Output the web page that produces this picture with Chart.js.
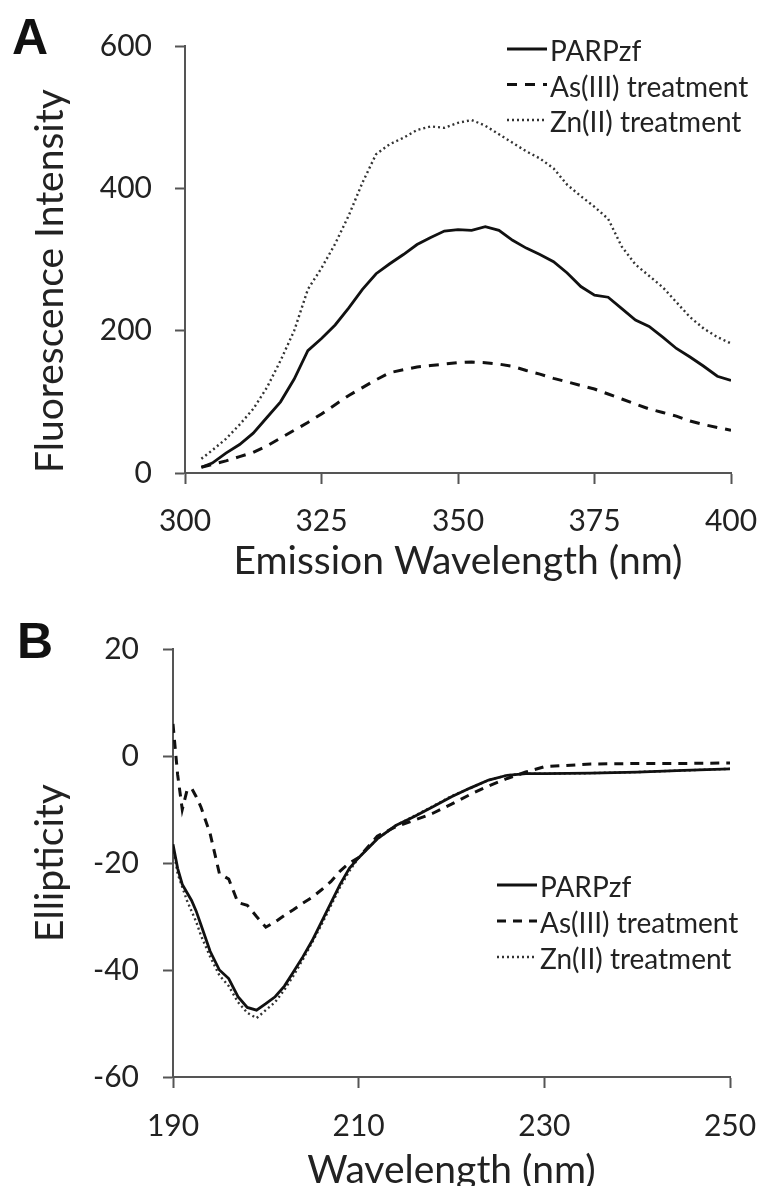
<!DOCTYPE html>
<html>
<head>
<meta charset="utf-8">
<script src="https://cdn.jsdelivr.net/npm/chart.js@4.4.1/dist/chart.umd.min.js"></script>
<style>
  html, body { margin: 0; padding: 0; background: #fff; overflow: hidden; }
  #wrap { position: relative; width: 762px; height: 1186px; overflow: hidden; }
  canvas { position: absolute; left: 0; }
  #chartA { top: 0; }
  #chartB { top: 600px; }
</style>
</head>
<body>
<div id="wrap">
  <canvas id="chartA" width="762" height="600"></canvas>
  <canvas id="chartB" width="762" height="600"></canvas>
</div>
<script>
/* DATA - panel A, fluorescence emission */
const emWavelength = [303, 305, 307.5, 310, 312.5, 315, 317.5, 320, 322.5, 325, 327.5, 330, 332.5, 335, 337.5, 340, 342.5, 345, 347.5, 350,
  352.5, 355, 357.5, 360, 362.5, 365, 367.5, 370, 372.5, 375, 377.5, 380, 382.5, 385, 387.5, 390, 392.5, 395, 397.5, 400];
const emParp = [8, 14, 28, 40, 56, 78, 100, 132, 172, 189, 208, 232, 258, 280, 294, 307, 321, 331, 340, 342,
  341, 346, 341, 327, 316, 307, 297, 281, 262, 250, 247, 231, 215, 206, 191, 175, 163, 150, 136, 130];
const emAs = [8, 12, 17, 23, 29, 38, 49, 60, 71, 83, 96, 109, 120, 131, 141, 145, 149, 151, 153, 155,
  156, 155, 153, 150, 144, 139, 133, 128, 123, 118, 111, 104, 97, 90, 85, 80, 73, 68, 64, 60];
const emZn = [20, 32, 48, 68, 90, 120, 158, 200, 258, 288, 322, 362, 408, 448, 462, 471, 482, 487, 485, 492,
  496, 488, 476, 464, 452, 442, 428, 405, 389, 374, 357, 318, 293, 277, 261, 240, 219, 203, 191, 182];
const emXTicks = [300, 325, 350, 375, 400];
const emYTicks = [0, 200, 400, 600];

/* DATA - panel B, circular dichroism */
const cdWavelength = [190, 190.5, 191, 191.5, 192, 192.5, 193, 194, 195, 196, 197, 198, 199, 200, 201, 202, 203, 204, 205, 206,
  207, 208, 209, 210, 212, 214, 216, 218, 220, 222, 224, 226, 228, 230, 235, 240, 245, 250];
const cdParp = [-16.5, -21, -24, -25.5, -27, -29, -31.5, -36.5, -40, -41.6, -45, -47, -47.5, -46.3, -45, -43, -40.3, -37.5, -34.5, -31,
  -27.5, -24, -21, -19, -15.5, -13, -11.3, -9.5, -7.6, -6, -4.5, -3.6, -3.3, -3.3, -3.2, -3.0, -2.7, -2.4];
const cdAs = [6, -3.5, -10, -6.5, -6, -7.6, -9.5, -14.5, -22, -23, -27.4, -27.9, -30, -32, -31, -29.8, -28.7, -27.5, -26.4, -25,
  -23.5, -21.5, -20, -19, -15, -13.2, -12, -10.7, -9, -7.2, -5.6, -4.2, -3, -2, -1.5, -1.4, -1.4, -1.3];
const cdZn = [-17, -22, -24.5, -27, -29, -31, -33.5, -37.5, -41, -43, -46, -48, -49, -47.5, -46, -43.7, -41, -38, -34.8, -31.5,
  -28, -24.5, -21.5, -19, -15.5, -13, -11.2, -9.4, -7.5, -6, -4.5, -3.6, -3.3, -3.3, -3.2, -3.0, -2.7, -2.4];
const cdXTicks = [190, 210, 230, 250];
const cdYTicks = [-60, -40, -20, 0, 20];

const seriesNames = ["PARPzf", "As(III) treatment", "Zn(II) treatment"];

Chart.defaults.font.family = "Lato";
Chart.defaults.color = "#222";

/* panel letter + legend drawn on canvas */
const panelDecor = {
  id: "panelDecor",
  afterDraw(chart, args, o) {
    const ctx = chart.ctx;
    ctx.save();
    ctx.fillStyle = "#111";
    ctx.font = "bold 50px 'Liberation Sans'";
    ctx.textBaseline = "alphabetic";
    ctx.fillText(o.letter, o.letterX, o.letterY);

    ctx.font = "28px Lato";
    ctx.textBaseline = "middle";
    chart.data.datasets.forEach((ds, i) => {
      const y = o.legendY + i * o.legendGap;
      ctx.beginPath();
      ctx.setLineDash(ds.borderDash || []);
      ctx.lineWidth = ds.borderWidth;
      ctx.strokeStyle = ds.borderColor;
      ctx.moveTo(o.legendX, y - 3);
      ctx.lineTo(o.legendX + 40, y - 3);
      ctx.stroke();
      ctx.setLineDash([]);
      ctx.fillStyle = "#222";
      ctx.fillText(ds.label, o.legendX + 43, y);
    });
    ctx.restore();
  }
};

function series(xs, ys) {
  return xs.map((x, i) => ({ x: x, y: ys[i] }));
}

function makeDatasets(xs, parp, as, zn, dash) {
  return [
    { label: seriesNames[0], data: series(xs, parp), borderColor: "#111", borderWidth: 2.8 },
    { label: seriesNames[1], data: series(xs, as), borderColor: "#111", borderWidth: 3, borderDash: dash },
    { label: seriesNames[2], data: series(xs, zn), borderColor: "#333", borderWidth: 2.4, borderDash: [2, 3] }
  ];
}

function makeScales(o) {
  return {
    x: {
      type: "linear",
      min: o.xTicks[0],
      max: o.xTicks[o.xTicks.length - 1],
      afterBuildTicks: s => { s.ticks = o.xTicks.map(v => ({ value: v })); },
      // fixed height, and let layout.padding decide the side margins
      afterFit: s => { s.height = o.xHeight; s.paddingLeft = 0; s.paddingRight = 0; },
      ticks: { font: { size: 30 }, color: "#222", padding: o.xTickPad, maxRotation: 0, autoSkip: false },
      grid: { drawOnChartArea: false, tickLength: 11, tickColor: "#555", tickWidth: 2 },
      border: { color: "#555", width: 2 },
      title: { display: true, text: o.xTitle, font: { size: 39 }, color: "#222", padding: { top: 0, bottom: o.xTitlePad } }
    },
    y: {
      min: o.yTicks[0],
      max: o.yTicks[o.yTicks.length - 1],
      afterBuildTicks: s => { s.ticks = o.yTicks.map(v => ({ value: v })); },
      afterFit: s => { s.width = o.yWidth; s.paddingTop = 0; s.paddingBottom = 0; },
      ticks: { font: { size: 30 }, color: "#222", padding: o.yTickPad },
      grid: { drawOnChartArea: false, tickLength: 10, tickColor: "#555", tickWidth: 2 },
      border: { color: "#555", width: 2 },
      title: { display: true, text: o.yTitle, align: o.yTitleAlign, font: { size: 39 }, color: "#222", padding: { top: 27, bottom: 0 } }
    }
  };
}

const common = {
  responsive: false,
  animation: false,
  elements: { point: { radius: 0 }, line: { tension: 0 } },
  plugins: { legend: { display: false }, tooltip: { enabled: false } }
};

new Chart(document.getElementById("chartA"), {
  type: "line",
  data: { datasets: makeDatasets(emWavelength, emParp, emAs, emZn, [10, 8]) },
  options: {
    ...common,
    layout: { padding: { top: 46, right: 31, left: 0, bottom: 0 } },
    scales: makeScales({
      xTicks: emXTicks, yTicks: emYTicks, xHeight: 127, yWidth: 185,
      xTickPad: 19, yTickPad: 23, xTitlePad: 15.6, yTitleAlign: "start",
      xTitle: "Emission Wavelength (nm)", yTitle: "Fluorescence Intensity"
    }),
    plugins: {
      ...common.plugins,
      panelDecor: { letter: "A", letterX: 12, letterY: 54, legendX: 507, legendY: 52, legendGap: 35.5 }
    }
  },
  plugins: [panelDecor]
});

new Chart(document.getElementById("chartB"), {
  type: "line",
  data: { datasets: makeDatasets(cdWavelength, cdParp, cdAs, cdZn, [9, 7]) },
  options: {
    ...common,
    layout: { padding: { top: 49, right: 32, left: 0, bottom: 0 } },
    scales: makeScales({
      xTicks: cdXTicks, yTicks: cdYTicks, xHeight: 123, yWidth: 173,
      xTickPad: 20, yTickPad: 24, xTitlePad: 6, yTitleAlign: "center",
      xTitle: "Wavelength (nm)", yTitle: "Ellipticity"
    }),
    plugins: {
      ...common.plugins,
      panelDecor: { letter: "B", letterX: 17, letterY: 58, legendX: 497, legendY: 288, legendGap: 36 }
    }
  },
  plugins: [panelDecor]
});
</script>
</body>
</html>
